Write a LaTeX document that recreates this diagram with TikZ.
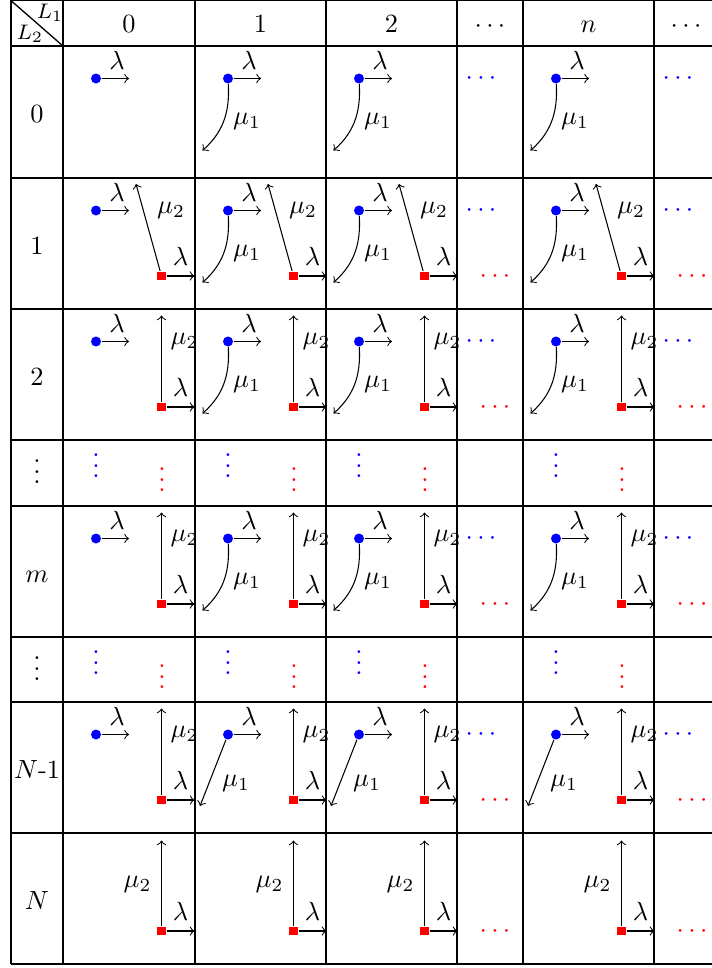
\documentclass[tikz,border=0pt]{standalone}
\newcommand\myvdots{\vbox{\baselineskip4pt\lineskiplimit0pt\hbox{.}\hbox{.}\hbox{.}}}
\begin{document}
\begin{tikzpicture}[x=0.38pt,y=-0.38pt,
  bdot/.style={circle,fill=blue,inner sep=0pt,minimum size=3.8pt},
  rsq/.style={rectangle,fill=red,inner sep=0pt,minimum size=3.4pt},
  arr/.style={->},
  gridline/.style={line width=0.5pt},
  lab/.style={inner sep=0pt},
  hdr/.style={anchor=base,inner sep=0pt},
  bdots/.style={anchor=base,inner sep=0pt,text=blue},
  rdots/.style={anchor=base,inner sep=0pt,text=red},
  bvdots/.style={inner sep=0pt,text=blue},
  rvdots/.style={inner sep=0pt,text=red}]
\useasboundingbox (0,0) rectangle (712,968);
% grid
\foreach \yy in {0.6,46,178,309,440,506,637,702,833,964}
  \draw[gridline] (11,\yy) -- (712,\yy);
\foreach \xx in {11,63,195,326,457,523,654}
  \draw[gridline] (\xx,0) -- (\xx,964);
\draw[gridline] (11,0.6) -- (63,46);
\node[lab,font=\footnotesize] (L1) at (50,12.5) {$L_1$};
\node[lab,font=\footnotesize] (L2) at (30,34) {$L_2$};
% column headers
\node[hdr] (h0) at (129,33) {$0$};
\node[hdr] (h1) at (260.5,33) {$1$};
\node[hdr] (h2) at (391.5,33) {$2$};
\node[hdr] (h3) at (490,33) {$\cdots$};
\node[hdr] (h4) at (588.5,33) {$n$};
\node[hdr] (h5) at (686,33) {$\cdots$};
% row headers
\node[hdr] (r0) at (37,122) {$0$};
\node[hdr] (r1) at (37,254) {$1$};
\node[hdr] (r2) at (37,385) {$2$};
\node[lab] (r3) at (37,472) {\myvdots};
\node[hdr] (r4) at (37,582) {$m$};
\node[lab] (r5) at (37,669) {\myvdots};
\node[hdr] (r6) at (37,778) {$N$-1};
\node[hdr] (r7) at (37,909) {$N$};
% blue dots with lambda arrows
\foreach \cx/\cn in {63/a,195/b,326/c,523/d}{
  \foreach \ry/\rn in {46/0,178/1,309/2,506/m,702/n1}{
    \node[bdot] (b\cn\rn) at (\cx+33,\ry+32.5) {};
    \coordinate (bl\cn\rn) at (\cx+66,\ry+32.5);
    \draw[arr] (b\cn\rn) -- (bl\cn\rn);
    \node[lab] (lb\cn\rn) at (\cx+54,\ry+14) {$\lambda$};
  }
}
% mu1 curved
\foreach \cx/\cn in {195/b,326/c,523/d}{
  \foreach \ry/\rn in {46/0,178/1,309/2,506/m}{
    \coordinate (mc\cn\rn) at (\cx+7.5,\ry+104.5);
    \draw[arr] (b\cn\rn) .. controls (\cx+35,\ry+68) and (\cx+27,\ry+87) .. (mc\cn\rn);
    \node[lab] (lmc\cn\rn) at (\cx+52,\ry+75) {$\mu_1$};
  }
  % mu1 straight in row N-1
  \coordinate (ms\cn) at (\cx+5,806);
  \draw[arr] (b\cn n1) -- (ms\cn);
  \node[lab] (lms\cn) at (\cx+41,783) {$\mu_1$};
}
% red squares with lambda arrows
\foreach \cx/\cn in {63/a,195/b,326/c,523/d}{
  \foreach \ry/\rn in {178/1,309/2,506/m,702/n1,833/N}{
    \node[rsq] (s\cn\rn) at (\cx+98.5,\ry+98) {};
    \coordinate (sl\cn\rn) at (\cx+131.5,\ry+98);
    \draw[arr] (s\cn\rn) -- (sl\cn\rn);
    \node[lab] (ls\cn\rn) at (\cx+117.5,\ry+78) {$\lambda$};
  }
  % mu2 slanted, row 1
  \coordinate (mt\cn) at (\cx+73,184);
  \draw[arr] (s\cn1) -- (mt\cn);
  \node[lab] (lmt\cn) at (\cx+108,210) {$\mu_2$};
  % mu2 vertical, rows 2, m, N-1
  \foreach \ry/\rn in {309/2,506/m,702/n1}{
    \coordinate (mv\cn\rn) at (\cx+98.5,\ry+6.5);
    \draw[arr] (s\cn\rn) -- (mv\cn\rn);
    \node[lab] (lmv\cn\rn) at (\cx+121.5,\ry+32) {$\mu_2$};
  }
  % mu2 vertical, row N
  \coordinate (mvN\cn) at (\cx+98.5,840.5);
  \draw[arr] (s\cn N) -- (mvN\cn);
  \node[lab] (lmvN\cn) at (\cx+74.5,884) {$\mu_2$};
  % vertical dots rows
  \foreach \ry/\rn in {440/v1,637/v2}{
    \node[bvdots] (vb\cn\rn) at (\cx+33,\ry+26) {\myvdots};
    \node[rvdots] (vr\cn\rn) at (\cx+99,\ry+40) {\myvdots};
  }
}
% horizontal dots columns
\foreach \dx/\dn in {457/e,654/f}{
  \foreach \ry/\rn in {46/0,178/1,309/2,506/m,702/n1}{
    \node[bdots] (hb\dn\rn) at (\dx+24,\ry+32+6.6) {$\cdots$};
  }
  \foreach \ry/\rn in {178/1,309/2,506/m,702/n1,833/N}{
    \node[rdots] (hr\dn\rn) at (\dx+38,\ry+98+6.6) {$\cdots$};
  }
}
\end{tikzpicture}
\end{document}
